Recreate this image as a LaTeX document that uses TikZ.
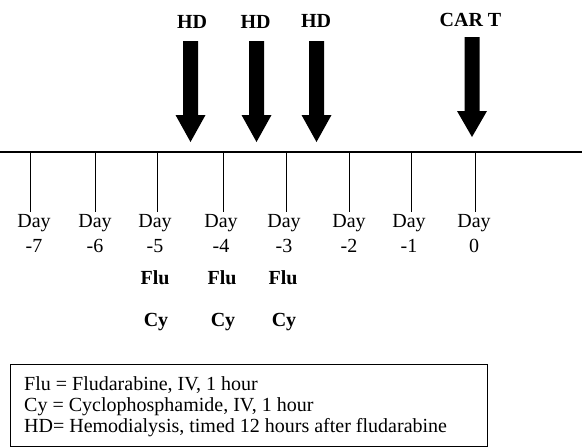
\documentclass[tikz,border=0pt]{standalone}
\usepackage{fontspec}
\setmainfont{Liberation Serif}
\begin{document}
\begin{tikzpicture}[x=1pt,y=-1pt,
  lbl/.style={font=\fontsize{20}{22}\selectfont, inner sep=0pt},
  bl/.style={font=\fontsize{20}{22}\selectfont\bfseries, inner sep=0pt},
  tick/.style={line width=1pt},
  bigarrow/.style={fill=black, draw=none}]
\useasboundingbox (0,0) rectangle (582,447);
% axis
\coordinate (axL) at (0,152);
\coordinate (axR) at (582,152);
\draw[line width=1.4pt] (axL) -- (axR);
% ticks and day labels
\foreach \x/\lx/\d [count=\i] in {30/34/-7, 95/95/-6, 157/155/-5, 223/221/-4, 286/284/-3, 349/349/-2, 411/409/-1, 475/474/0}{
  \coordinate (t\i) at (\x,152);
  \coordinate (b\i) at (\x,212);
  \draw[tick] (t\i) -- (b\i);
  \node[lbl] (day\i) at (\lx,223) {Day};
  \node[lbl] (num\i) at (\lx,246) {\d};
}
% Flu / Cy
\foreach \x [count=\i] in {155,222,283}{
  \node[bl] (flu\i) at (\x,278) {Flu};
  \node[bl] (cy\i) at (\x+1,322) {Cy};
}
% arrows
\foreach \x/\top/\hs/\tip in {190.5/41/115/142, 256.5/41/115/142, 316.5/41/115/142, 472/37/111/137}{
  \fill[bigarrow] (\x-7.5,\top) -- (\x+7.5,\top) -- (\x+7.5,\hs) -- (\x+15,\hs) -- (\x,\tip) -- (\x-15,\hs) -- (\x-7.5,\hs) -- cycle;
}
\node[bl] (lhd1) at (192,22) {HD};
\node[bl] (lhd2) at (255.5,22) {HD};
\node[bl] (lhd3) at (316,21) {HD};
\node[bl] (lcart) at (470.5,20) {CAR T};
% legend
\draw[line width=1pt] (10,364) rectangle (487,446);
\node[lbl, anchor=west] (leg1) at (24,385) {Flu = Fludarabine, IV, 1 hour};
\node[lbl, anchor=west] (leg2) at (24,407) {Cy = Cyclophosphamide, IV, 1 hour};
\node[lbl, anchor=west] (leg3) at (24,428) {HD= Hemodialysis, timed 12 hours after fludarabine};
\end{tikzpicture}
\end{document}
